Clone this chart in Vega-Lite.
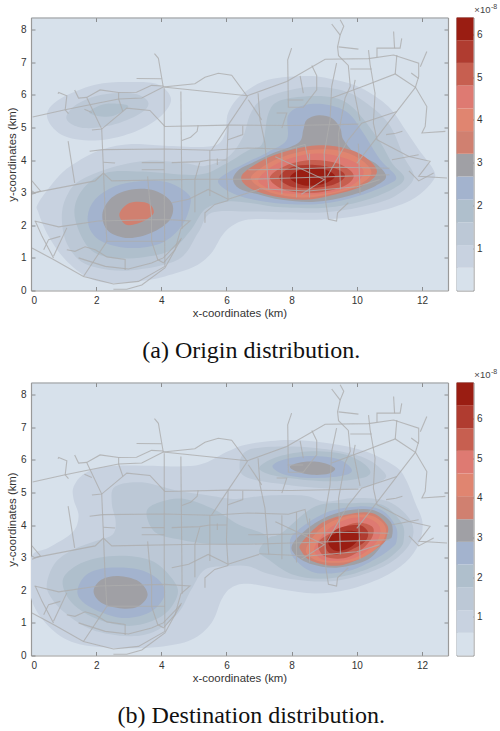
{"$schema":"https://vega.github.io/schema/vega-lite/v6.json","padding":{"left":6,"top":1.5,"right":0,"bottom":0},"background":"white","bounds":"flush","spacing":365,"config":{"axis":{"grid":false,"labelFont":"Liberation Sans","titleFont":"Liberation Sans","labelFontSize":10,"titleFontSize":11.4,"titleFontWeight":"normal","labelColor":"#333","titleColor":"#333","domainColor":"#999","tickColor":"#777","domainWidth":1.2,"tickWidth":0.8}},
"datasets":{
"bands1":[{"l":"c1","a":0.02,"b":0.55},{"l":"c2","a":0.55,"b":1.08},{"l":"c3","a":1.08,"b":1.61},{"l":"c4","a":1.61,"b":2.14},{"l":"c5","a":2.14,"b":2.68},{"l":"c6","a":2.68,"b":3.21},{"l":"c7","a":3.21,"b":3.74},{"l":"c8","a":3.74,"b":4.27},{"l":"c9","a":4.27,"b":4.8},{"l":"c10","a":4.8,"b":5.33},{"l":"c11","a":5.33,"b":5.86},{"l":"c12","a":5.86,"b":6.39}],
"bands2":[{"l":"c1","a":0.03,"b":0.6},{"l":"c2","a":0.6,"b":1.17},{"l":"c3","a":1.17,"b":1.75},{"l":"c4","a":1.75,"b":2.32},{"l":"c5","a":2.32,"b":2.89},{"l":"c6","a":2.89,"b":3.46},{"l":"c7","a":3.46,"b":4.04},{"l":"c8","a":4.04,"b":4.61},{"l":"c9","a":4.61,"b":5.18},{"l":"c10","a":5.18,"b":5.75},{"l":"c11","a":5.75,"b":6.33},{"l":"c12","a":6.33,"b":6.9}],
"o":[
{"l":"c2","s":"n","x":0.49,"y":5.34},{"l":"c2","s":"n","x":0.85,"y":5.85},{"l":"c2","s":"n","x":1.97,"y":6.31},{"l":"c2","s":"n","x":3.09,"y":6.39},{"l":"c2","s":"n","x":3.91,"y":6.31},{"l":"c2","s":"n","x":4.3,"y":5.85},{"l":"c2","s":"n","x":3.91,"y":5.28},{"l":"c2","s":"n","x":3.09,"y":4.83},{"l":"c2","s":"n","x":1.97,"y":4.6},{"l":"c2","s":"n","x":0.95,"y":4.77},
{"l":"c2","s":"m","x":0.23,"y":2.69},{"l":"c2","s":"m","x":0.85,"y":3.5},{"l":"c2","s":"m","x":1.36,"y":3.91},{"l":"c2","s":"m","x":2.17,"y":4.32},{"l":"c2","s":"m","x":3.09,"y":4.49},{"l":"c2","s":"m","x":4.11,"y":4.44},{"l":"c2","s":"m","x":5.54,"y":4.42},{"l":"c2","s":"m","x":5.95,"y":4.78},{"l":"c2","s":"m","x":6.05,"y":5.44},{"l":"c2","s":"m","x":6.46,"y":6},{"l":"c2","s":"m","x":7.28,"y":6.46},{"l":"c2","s":"m","x":8.51,"y":6.58},{"l":"c2","s":"m","x":9.33,"y":6.46},{"l":"c2","s":"m","x":10.15,"y":6.2},{"l":"c2","s":"m","x":10.97,"y":5.64},{"l":"c2","s":"m","x":11.49,"y":4.93},{"l":"c2","s":"m","x":11.9,"y":4.32},{"l":"c2","s":"m","x":12.38,"y":3.65},{"l":"c2","s":"m","x":12.3,"y":3.31},{"l":"c2","s":"m","x":11.8,"y":2.85},{"l":"c2","s":"m","x":11.08,"y":2.54},{"l":"c2","s":"m","x":9.95,"y":2.28},{"l":"c2","s":"m","x":8.92,"y":2.18},{"l":"c2","s":"m","x":7.7,"y":2.18},{"l":"c2","s":"m","x":6.67,"y":2.18},{"l":"c2","s":"m","x":6.15,"y":1.97},{"l":"c2","s":"m","x":5.85,"y":1.66},{"l":"c2","s":"m","x":5.54,"y":1.15},{"l":"c2","s":"m","x":5.03,"y":0.74},{"l":"c2","s":"m","x":4.11,"y":0.43},{"l":"c2","s":"m","x":3.3,"y":0.28},{"l":"c2","s":"m","x":2.48,"y":0.23},{"l":"c2","s":"m","x":1.77,"y":0.38},{"l":"c2","s":"m","x":1.05,"y":0.95},{"l":"c2","s":"m","x":0.54,"y":1.66},{"l":"c2","s":"m","x":0.23,"y":2.38},
{"l":"c3","s":"n","x":1.1,"y":5.38},{"l":"c3","s":"n","x":1.46,"y":5.74},{"l":"c3","s":"n","x":2.17,"y":6},{"l":"c3","s":"n","x":3.09,"y":6.05},{"l":"c3","s":"n","x":3.55,"y":5.85},{"l":"c3","s":"n","x":3.55,"y":5.59},{"l":"c3","s":"n","x":3.09,"y":5.29},{"l":"c3","s":"n","x":2.38,"y":5.05},{"l":"c3","s":"n","x":1.66,"y":4.98},{"l":"c3","s":"n","x":1.2,"y":5.13},
{"l":"c3","s":"m","x":0.95,"y":2.38},{"l":"c3","s":"m","x":1.15,"y":3},{"l":"c3","s":"m","x":1.56,"y":3.4},{"l":"c3","s":"m","x":2.58,"y":3.8},{"l":"c3","s":"m","x":3.6,"y":3.98},{"l":"c3","s":"m","x":4.72,"y":3.9},{"l":"c3","s":"m","x":5.34,"y":3.82},{"l":"c3","s":"m","x":6.05,"y":4.1},{"l":"c3","s":"m","x":6.5,"y":4.7},{"l":"c3","s":"m","x":6.75,"y":5.44},{"l":"c3","s":"m","x":7.18,"y":5.9},{"l":"c3","s":"m","x":8.41,"y":6.23},{"l":"c3","s":"m","x":9.44,"y":6.16},{"l":"c3","s":"m","x":10.15,"y":5.85},{"l":"c3","s":"m","x":10.97,"y":5.13},{"l":"c3","s":"m","x":11.44,"y":4.11},{"l":"c3","s":"m","x":11.75,"y":3.45},{"l":"c3","s":"m","x":11.18,"y":2.9},{"l":"c3","s":"m","x":10.26,"y":2.59},{"l":"c3","s":"m","x":9.03,"y":2.4},{"l":"c3","s":"m","x":7.7,"y":2.4},{"l":"c3","s":"m","x":6.67,"y":2.42},{"l":"c3","s":"m","x":5.54,"y":2.38},{"l":"c3","s":"m","x":5.13,"y":1.77},{"l":"c3","s":"m","x":4.52,"y":0.95},{"l":"c3","s":"m","x":3.09,"y":0.62},{"l":"c3","s":"m","x":2.07,"y":0.69},{"l":"c3","s":"m","x":1.46,"y":0.95},{"l":"c3","s":"m","x":1.05,"y":1.56},
{"l":"c4","s":"n","x":1.79,"y":5.49},{"l":"c4","s":"n","x":2.28,"y":5.72},{"l":"c4","s":"n","x":2.94,"y":5.69},{"l":"c4","s":"n","x":2.89,"y":5.54},{"l":"c4","s":"n","x":2.48,"y":5.34},{"l":"c4","s":"n","x":2.02,"y":5.36},
{"l":"c4","s":"m","x":1.34,"y":2.28},{"l":"c4","s":"m","x":1.55,"y":3.05},{"l":"c4","s":"m","x":2.28,"y":3.6},{"l":"c4","s":"m","x":3.4,"y":3.65},{"l":"c4","s":"m","x":5.13,"y":3.55},{"l":"c4","s":"m","x":5.95,"y":3.87},{"l":"c4","s":"m","x":6.67,"y":4.3},{"l":"c4","s":"m","x":7.1,"y":4.5},{"l":"c4","s":"m","x":7.28,"y":5.4},{"l":"c4","s":"m","x":7.59,"y":5.8},{"l":"c4","s":"m","x":8.41,"y":5.95},{"l":"c4","s":"m","x":9.33,"y":5.9},{"l":"c4","s":"m","x":9.95,"y":5.54},{"l":"c4","s":"m","x":10.67,"y":4.62},{"l":"c4","s":"m","x":11.08,"y":3.91},{"l":"c4","s":"m","x":11.46,"y":3.45},{"l":"c4","s":"m","x":11.08,"y":3.1},{"l":"c4","s":"m","x":10.15,"y":2.74},{"l":"c4","s":"m","x":9.03,"y":2.54},{"l":"c4","s":"m","x":7.7,"y":2.55},{"l":"c4","s":"m","x":6.67,"y":2.69},{"l":"c4","s":"m","x":6.0,"y":2.72},{"l":"c4","s":"m","x":5.34,"y":2.49},{"l":"c4","s":"m","x":4.92,"y":1.87},{"l":"c4","s":"m","x":4.32,"y":1.25},{"l":"c4","s":"m","x":3.5,"y":1.03},{"l":"c4","s":"m","x":2.48,"y":1.0},{"l":"c4","s":"m","x":1.77,"y":1.31},
{"l":"c5","s":"w","x":1.74,"y":2.28},{"l":"c5","s":"w","x":1.97,"y":2.8},{"l":"c5","s":"w","x":2.58,"y":3.2},{"l":"c5","s":"w","x":3.4,"y":3.36},{"l":"c5","s":"w","x":4.21,"y":3.31},{"l":"c5","s":"w","x":4.83,"y":2.95},{"l":"c5","s":"w","x":4.88,"y":2.59},{"l":"c5","s":"w","x":4.62,"y":1.97},{"l":"c5","s":"w","x":4.01,"y":1.46},{"l":"c5","s":"w","x":3.09,"y":1.3},{"l":"c5","s":"w","x":2.28,"y":1.46},{"l":"c5","s":"w","x":1.87,"y":1.77},
{"l":"c5","s":"e","x":5.74,"y":3.36},{"l":"c5","s":"e","x":6.1,"y":3.65},{"l":"c5","s":"e","x":6.67,"y":3.95},{"l":"c5","s":"e","x":7.28,"y":4.25},{"l":"c5","s":"e","x":7.85,"y":4.62},{"l":"c5","s":"e","x":7.9,"y":5.38},{"l":"c5","s":"e","x":8.41,"y":5.69},{"l":"c5","s":"e","x":9.13,"y":5.69},{"l":"c5","s":"e","x":9.74,"y":5.44},{"l":"c5","s":"e","x":10.2,"y":4.83},{"l":"c5","s":"e","x":10.72,"y":4.01},{"l":"c5","s":"e","x":11.2,"y":3.5},{"l":"c5","s":"e","x":10.97,"y":3.26},{"l":"c5","s":"e","x":10.05,"y":2.9},{"l":"c5","s":"e","x":8.92,"y":2.66},{"l":"c5","s":"e","x":7.7,"y":2.66},{"l":"c5","s":"e","x":6.67,"y":2.82},{"l":"c5","s":"e","x":6.05,"y":3.05},
{"l":"c6","s":"w","x":2.19,"y":2.33},{"l":"c6","s":"w","x":2.48,"y":2.85},{"l":"c6","s":"w","x":3.09,"y":3.1},{"l":"c6","s":"w","x":3.81,"y":3.06},{"l":"c6","s":"w","x":4.32,"y":2.69},{"l":"c6","s":"w","x":4.27,"y":2.18},{"l":"c6","s":"w","x":3.7,"y":1.77},{"l":"c6","s":"w","x":2.99,"y":1.61},{"l":"c6","s":"w","x":2.38,"y":1.82},
{"l":"c6","s":"e","x":6.2,"y":3.41},{"l":"c6","s":"e","x":6.4,"y":3.72},{"l":"c6","s":"e","x":6.8,"y":3.92},{"l":"c6","s":"e","x":7.4,"y":4.2},{"l":"c6","s":"e","x":8.2,"y":4.52},{"l":"c6","s":"e","x":8.36,"y":4.93},{"l":"c6","s":"e","x":8.46,"y":5.23},{"l":"c6","s":"e","x":8.82,"y":5.37},{"l":"c6","s":"e","x":9.23,"y":5.29},{"l":"c6","s":"e","x":9.49,"y":4.98},{"l":"c6","s":"e","x":9.59,"y":4.62},{"l":"c6","s":"e","x":9.95,"y":4.21},{"l":"c6","s":"e","x":10.56,"y":3.91},{"l":"c6","s":"e","x":10.9,"y":3.5},{"l":"c6","s":"e","x":10.56,"y":3.2},{"l":"c6","s":"e","x":9.74,"y":2.9},{"l":"c6","s":"e","x":8.72,"y":2.72},{"l":"c6","s":"e","x":7.7,"y":2.78},{"l":"c6","s":"e","x":6.97,"y":2.95},{"l":"c6","s":"e","x":6.4,"y":3.12},
{"l":"c7","s":"w","x":2.71,"y":2.33},{"l":"c7","s":"w","x":2.94,"y":2.64},{"l":"c7","s":"w","x":3.3,"y":2.72},{"l":"c7","s":"w","x":3.65,"y":2.64},{"l":"c7","s":"w","x":3.77,"y":2.38},{"l":"c7","s":"w","x":3.55,"y":2.18},{"l":"c7","s":"w","x":3.19,"y":2.03},{"l":"c7","s":"w","x":2.89,"y":2.03},
{"l":"c7","s":"e","x":6.45,"y":3.45},{"l":"c7","s":"e","x":6.75,"y":3.78},{"l":"c7","s":"e","x":7.49,"y":4.16},{"l":"c7","s":"e","x":8.51,"y":4.42},{"l":"c7","s":"e","x":9.33,"y":4.42},{"l":"c7","s":"e","x":10.15,"y":4.16},{"l":"c7","s":"e","x":10.62,"y":3.65},{"l":"c7","s":"e","x":10.15,"y":3.2},{"l":"c7","s":"e","x":9.23,"y":2.92},{"l":"c7","s":"e","x":8.41,"y":2.78},{"l":"c7","s":"e","x":7.49,"y":2.88},{"l":"c7","s":"e","x":6.75,"y":3.12},
{"l":"c8","s":"e","x":6.75,"y":3.45},{"l":"c8","s":"e","x":7.05,"y":3.75},{"l":"c8","s":"e","x":7.6,"y":4.05},{"l":"c8","s":"e","x":8.5,"y":4.3},{"l":"c8","s":"e","x":9.4,"y":4.3},{"l":"c8","s":"e","x":10.1,"y":4.03},{"l":"c8","s":"e","x":10.45,"y":3.6},{"l":"c8","s":"e","x":10,"y":3.2},{"l":"c8","s":"e","x":9.2,"y":2.96},{"l":"c8","s":"e","x":8.4,"y":2.85},{"l":"c8","s":"e","x":7.5,"y":2.96},{"l":"c8","s":"e","x":7.0,"y":3.18},
{"l":"c9","s":"e","x":7.0,"y":3.45},{"l":"c9","s":"e","x":7.6,"y":3.92},{"l":"c9","s":"e","x":8.5,"y":4.18},{"l":"c9","s":"e","x":9.3,"y":4.15},{"l":"c9","s":"e","x":10,"y":3.9},{"l":"c9","s":"e","x":10.2,"y":3.55},{"l":"c9","s":"e","x":9.7,"y":3.15},{"l":"c9","s":"e","x":8.8,"y":2.95},{"l":"c9","s":"e","x":7.7,"y":3.0},{"l":"c9","s":"e","x":7.15,"y":3.2},
{"l":"c10","s":"e","x":7.33,"y":3.45},{"l":"c10","s":"e","x":7.8,"y":3.82},{"l":"c10","s":"e","x":8.6,"y":4.0},{"l":"c10","s":"e","x":9.4,"y":3.9},{"l":"c10","s":"e","x":9.9,"y":3.55},{"l":"c10","s":"e","x":9.6,"y":3.2},{"l":"c10","s":"e","x":8.7,"y":3.0},{"l":"c10","s":"e","x":7.8,"y":3.08},
{"l":"c11","s":"e","x":7.62,"y":3.47},{"l":"c11","s":"e","x":8.0,"y":3.78},{"l":"c11","s":"e","x":8.7,"y":3.85},{"l":"c11","s":"e","x":9.4,"y":3.72},{"l":"c11","s":"e","x":9.64,"y":3.5},{"l":"c11","s":"e","x":9.3,"y":3.25},{"l":"c11","s":"e","x":8.6,"y":3.14},{"l":"c11","s":"e","x":7.95,"y":3.2},
{"l":"c12","s":"e","x":7.95,"y":3.45},{"l":"c12","s":"e","x":8.3,"y":3.72},{"l":"c12","s":"e","x":8.9,"y":3.74},{"l":"c12","s":"e","x":9.33,"y":3.52},{"l":"c12","s":"e","x":9.0,"y":3.28},{"l":"c12","s":"e","x":8.4,"y":3.22}
],
"d":[
{"l":"c2","s":"m","x":0,"y":3.0},{"l":"c2","s":"m","x":0.54,"y":3.3},{"l":"c2","s":"m","x":1.26,"y":3.76},{"l":"c2","s":"m","x":1.46,"y":4.27},{"l":"c2","s":"m","x":1.31,"y":4.78},{"l":"c2","s":"m","x":1.31,"y":5.18},{"l":"c2","s":"m","x":1.66,"y":5.59},{"l":"c2","s":"m","x":2.38,"y":5.8},{"l":"c2","s":"m","x":3.5,"y":5.82},{"l":"c2","s":"m","x":4.72,"y":5.8},{"l":"c2","s":"m","x":5.34,"y":5.9},{"l":"c2","s":"m","x":6.05,"y":6.26},{"l":"c2","s":"m","x":6.66,"y":6.48},{"l":"c2","s":"m","x":7.9,"y":6.61},{"l":"c2","s":"m","x":9.13,"y":6.51},{"l":"c2","s":"m","x":10.26,"y":6.26},{"l":"c2","s":"m","x":11.18,"y":5.8},{"l":"c2","s":"m","x":11.51,"y":5.39},{"l":"c2","s":"m","x":11.8,"y":4.67},{"l":"c2","s":"m","x":12.02,"y":4.06},{"l":"c2","s":"m","x":11.9,"y":3.41},{"l":"c2","s":"m","x":11.49,"y":2.85},{"l":"c2","s":"m","x":10.77,"y":2.38},{"l":"c2","s":"m","x":9.74,"y":2.02},{"l":"c2","s":"m","x":8.72,"y":1.9},{"l":"c2","s":"m","x":7.7,"y":2.02},{"l":"c2","s":"m","x":6.67,"y":2.2},{"l":"c2","s":"m","x":6.15,"y":2.08},{"l":"c2","s":"m","x":5.85,"y":1.72},{"l":"c2","s":"m","x":5.54,"y":1},{"l":"c2","s":"m","x":4.92,"y":0.48},{"l":"c2","s":"m","x":3.91,"y":0.26},{"l":"c2","s":"m","x":2.58,"y":0.23},{"l":"c2","s":"m","x":1.36,"y":0.38},{"l":"c2","s":"m","x":0.54,"y":0.9},{"l":"c2","s":"m","x":0,"y":1.77},
{"l":"c3","s":"n","x":6.4,"y":5.8},{"l":"c3","s":"n","x":6.67,"y":6.3},{"l":"c3","s":"n","x":7.9,"y":6.41},{"l":"c3","s":"n","x":9.23,"y":6.3},{"l":"c3","s":"n","x":10.26,"y":6.05},{"l":"c3","s":"n","x":10.82,"y":5.64},{"l":"c3","s":"n","x":10.82,"y":5.39},{"l":"c3","s":"n","x":10.05,"y":5.13},{"l":"c3","s":"n","x":9.0,"y":5.13},{"l":"c3","s":"n","x":7.9,"y":5.23},{"l":"c3","s":"n","x":6.67,"y":5.44},
{"l":"c3","s":"m","x":0.49,"y":2.23},{"l":"c3","s":"m","x":0.75,"y":2.85},{"l":"c3","s":"m","x":1.3,"y":3.25},{"l":"c3","s":"m","x":1.97,"y":3.5},{"l":"c3","s":"m","x":2.5,"y":3.7},{"l":"c3","s":"m","x":2.6,"y":4.1},{"l":"c3","s":"m","x":2.48,"y":4.67},{"l":"c3","s":"m","x":2.58,"y":5.18},{"l":"c3","s":"m","x":3.4,"y":5.31},{"l":"c3","s":"m","x":4.5,"y":5.05},{"l":"c3","s":"m","x":5.5,"y":4.9},{"l":"c3","s":"m","x":6.3,"y":4.8},{"l":"c3","s":"m","x":7.2,"y":4.9},{"l":"c3","s":"m","x":8.4,"y":4.9},{"l":"c3","s":"m","x":9.03,"y":4.72},{"l":"c3","s":"m","x":9.95,"y":4.83},{"l":"c3","s":"m","x":10.97,"y":4.72},{"l":"c3","s":"m","x":11.64,"y":4.16},{"l":"c3","s":"m","x":11.69,"y":3.55},{"l":"c3","s":"m","x":11.18,"y":2.95},{"l":"c3","s":"m","x":10.36,"y":2.54},{"l":"c3","s":"m","x":9.23,"y":2.28},{"l":"c3","s":"m","x":8.1,"y":2.33},{"l":"c3","s":"m","x":7.18,"y":2.54},{"l":"c3","s":"m","x":6.67,"y":2.74},{"l":"c3","s":"m","x":6.05,"y":2.74},{"l":"c3","s":"m","x":5.34,"y":2.64},{"l":"c3","s":"m","x":4.92,"y":2.02},{"l":"c3","s":"m","x":4.52,"y":1.3},{"l":"c3","s":"m","x":3.81,"y":0.74},{"l":"c3","s":"m","x":2.99,"y":0.59},{"l":"c3","s":"m","x":1.87,"y":0.79},{"l":"c3","s":"m","x":1.05,"y":1.3},{"l":"c3","s":"m","x":0.59,"y":1.82},
{"l":"c4","s":"q","x":3.55,"y":4.42},{"l":"c4","s":"q","x":4.01,"y":4.72},{"l":"c4","s":"q","x":4.72,"y":4.8},{"l":"c4","s":"q","x":5.64,"y":4.47},{"l":"c4","s":"q","x":6.4,"y":4.0},{"l":"c4","s":"q","x":7.1,"y":3.75},{"l":"c4","s":"q","x":7.3,"y":3.5},{"l":"c4","s":"q","x":6.66,"y":3.42},{"l":"c4","s":"q","x":5.5,"y":3.42},{"l":"c4","s":"q","x":4.6,"y":3.55},{"l":"c4","s":"q","x":3.81,"y":3.78},
{"l":"c4","s":"w","x":0.97,"y":2.28},{"l":"c4","s":"w","x":1.36,"y":2.74},{"l":"c4","s":"w","x":2.07,"y":3},{"l":"c4","s":"w","x":2.99,"y":3.05},{"l":"c4","s":"w","x":3.81,"y":2.85},{"l":"c4","s":"w","x":4.42,"y":2.23},{"l":"c4","s":"w","x":4.47,"y":1.77},{"l":"c4","s":"w","x":4.01,"y":1.2},{"l":"c4","s":"w","x":3.09,"y":0.91},{"l":"c4","s":"w","x":2.07,"y":1.1},{"l":"c4","s":"w","x":1.26,"y":1.61},
{"l":"c4","s":"n","x":7.03,"y":5.8},{"l":"c4","s":"n","x":7.6,"y":6.1},{"l":"c4","s":"n","x":8.6,"y":6.26},{"l":"c4","s":"n","x":9.64,"y":6.16},{"l":"c4","s":"n","x":10.31,"y":5.8},{"l":"c4","s":"n","x":10.31,"y":5.49},{"l":"c4","s":"n","x":9.23,"y":5.34},{"l":"c4","s":"n","x":7.9,"y":5.44},{"l":"c4","s":"n","x":7.18,"y":5.6},
{"l":"c4","s":"e","x":7.3,"y":3.6},{"l":"c4","s":"e","x":7.7,"y":3.76},{"l":"c4","s":"e","x":8.72,"y":4.57},{"l":"c4","s":"e","x":9.74,"y":4.67},{"l":"c4","s":"e","x":10.77,"y":4.62},{"l":"c4","s":"e","x":11.38,"y":4.06},{"l":"c4","s":"e","x":11.44,"y":3.55},{"l":"c4","s":"e","x":11.3,"y":3.26},{"l":"c4","s":"e","x":10.77,"y":2.85},{"l":"c4","s":"e","x":9.85,"y":2.49},{"l":"c4","s":"e","x":8.9,"y":2.35},{"l":"c4","s":"e","x":8,"y":2.49},{"l":"c4","s":"e","x":7.28,"y":2.95},{"l":"c4","s":"e","x":7.0,"y":3.2},
{"l":"c5","s":"w","x":1.43,"y":2.02},{"l":"c5","s":"w","x":1.72,"y":2.49},{"l":"c5","s":"w","x":2.38,"y":2.69},{"l":"c5","s":"w","x":3.3,"y":2.64},{"l":"c5","s":"w","x":3.91,"y":2.33},{"l":"c5","s":"w","x":4.11,"y":1.87},{"l":"c5","s":"w","x":3.7,"y":1.36},{"l":"c5","s":"w","x":2.89,"y":1.15},{"l":"c5","s":"w","x":2.07,"y":1.36},{"l":"c5","s":"w","x":1.56,"y":1.67},
{"l":"c5","s":"n","x":7.41,"y":5.8},{"l":"c5","s":"n","x":7.8,"y":6.02},{"l":"c5","s":"n","x":8.62,"y":6.12},{"l":"c5","s":"n","x":9.44,"y":6.02},{"l":"c5","s":"n","x":9.85,"y":5.69},{"l":"c5","s":"n","x":9.54,"y":5.51},{"l":"c5","s":"n","x":8.62,"y":5.44},{"l":"c5","s":"n","x":7.8,"y":5.54},
{"l":"c5","s":"e","x":7.95,"y":3.36},{"l":"c5","s":"e","x":8.1,"y":3.76},{"l":"c5","s":"e","x":9.03,"y":4.37},{"l":"c5","s":"e","x":10.05,"y":4.57},{"l":"c5","s":"e","x":10.77,"y":4.45},{"l":"c5","s":"e","x":11.2,"y":3.95},{"l":"c5","s":"e","x":11.22,"y":3.5},{"l":"c5","s":"e","x":11.08,"y":3.3},{"l":"c5","s":"e","x":10.56,"y":2.95},{"l":"c5","s":"e","x":9.74,"y":2.59},{"l":"c5","s":"e","x":8.72,"y":2.54},{"l":"c5","s":"e","x":8.1,"y":2.95},
{"l":"c6","s":"w","x":1.92,"y":1.97},{"l":"c6","s":"w","x":2.17,"y":2.33},{"l":"c6","s":"w","x":2.68,"y":2.44},{"l":"c6","s":"w","x":3.3,"y":2.28},{"l":"c6","s":"w","x":3.58,"y":1.87},{"l":"c6","s":"w","x":3.3,"y":1.51},{"l":"c6","s":"w","x":2.79,"y":1.44},{"l":"c6","s":"w","x":2.17,"y":1.61},
{"l":"c6","s":"n","x":7.95,"y":5.8},{"l":"c6","s":"n","x":8.36,"y":5.93},{"l":"c6","s":"n","x":8.92,"y":5.92},{"l":"c6","s":"n","x":9.33,"y":5.74},{"l":"c6","s":"n","x":9.13,"y":5.57},{"l":"c6","s":"n","x":8.62,"y":5.54},{"l":"c6","s":"n","x":8.15,"y":5.64},
{"l":"c6","s":"e","x":8.05,"y":3.45},{"l":"c6","s":"e","x":8.72,"y":4.06},{"l":"c6","s":"e","x":9.54,"y":4.41},{"l":"c6","s":"e","x":10.46,"y":4.47},{"l":"c6","s":"e","x":11.03,"y":4.11},{"l":"c6","s":"e","x":11.08,"y":3.65},{"l":"c6","s":"e","x":10.87,"y":3.5},{"l":"c6","s":"e","x":10.36,"y":2.95},{"l":"c6","s":"e","x":9.44,"y":2.7},{"l":"c6","s":"e","x":8.62,"y":2.8},{"l":"c6","s":"e","x":8.1,"y":3.1},
{"l":"c7","s":"e","x":8.3,"y":3.45},{"l":"c7","s":"e","x":8.92,"y":4.06},{"l":"c7","s":"e","x":9.64,"y":4.31},{"l":"c7","s":"e","x":10.46,"y":4.37},{"l":"c7","s":"e","x":10.93,"y":4.0},{"l":"c7","s":"e","x":10.92,"y":3.65},{"l":"c7","s":"e","x":10.77,"y":3.4},{"l":"c7","s":"e","x":10.15,"y":3},{"l":"c7","s":"e","x":9.38,"y":2.75},{"l":"c7","s":"e","x":8.62,"y":2.9},{"l":"c7","s":"e","x":8.3,"y":3.2},
{"l":"c8","s":"e","x":8.45,"y":3.3},{"l":"c8","s":"e","x":8.9,"y":3.9},{"l":"c8","s":"e","x":9.6,"y":4.25},{"l":"c8","s":"e","x":10.4,"y":4.3},{"l":"c8","s":"e","x":10.85,"y":4.0},{"l":"c8","s":"e","x":10.85,"y":3.6},{"l":"c8","s":"e","x":10.5,"y":3.2},{"l":"c8","s":"e","x":9.9,"y":2.9},{"l":"c8","s":"e","x":9.1,"y":2.85},{"l":"c8","s":"e","x":8.6,"y":3.0},
{"l":"c9","s":"e","x":8.7,"y":3.3},{"l":"c9","s":"e","x":9.1,"y":3.85},{"l":"c9","s":"e","x":9.7,"y":4.18},{"l":"c9","s":"e","x":10.3,"y":4.22},{"l":"c9","s":"e","x":10.7,"y":3.95},{"l":"c9","s":"e","x":10.65,"y":3.55},{"l":"c9","s":"e","x":10.3,"y":3.2},{"l":"c9","s":"e","x":9.8,"y":2.95},{"l":"c9","s":"e","x":9.2,"y":2.9},{"l":"c9","s":"e","x":8.85,"y":3.0},
{"l":"c10","s":"e","x":8.82,"y":3.45},{"l":"c10","s":"e","x":9.23,"y":3.76},{"l":"c10","s":"e","x":9.95,"y":4.06},{"l":"c10","s":"e","x":10.46,"y":3.96},{"l":"c10","s":"e","x":10.48,"y":3.65},{"l":"c10","s":"e","x":10.15,"y":3.25},{"l":"c10","s":"e","x":9.6,"y":2.98},{"l":"c10","s":"e","x":9.0,"y":3.05},
{"l":"c11","s":"e","x":9.08,"y":3.55},{"l":"c11","s":"e","x":9.44,"y":3.9},{"l":"c11","s":"e","x":10.05,"y":4.0},{"l":"c11","s":"e","x":10.34,"y":3.8},{"l":"c11","s":"e","x":10.26,"y":3.5},{"l":"c11","s":"e","x":9.85,"y":3.25},{"l":"c11","s":"e","x":9.4,"y":3.1},{"l":"c11","s":"e","x":9.1,"y":3.2},
{"l":"c12","s":"e","x":9.13,"y":3.6},{"l":"c12","s":"e","x":9.54,"y":3.8},{"l":"c12","s":"e","x":10,"y":3.8},{"l":"c12","s":"e","x":10.1,"y":3.65},{"l":"c12","s":"e","x":9.85,"y":3.35},{"l":"c12","s":"e","x":9.45,"y":3.2},{"l":"c12","s":"e","x":9.2,"y":3.3}
],
"roads":[
{"r":1,"x":0.05,"y":5.32},{"r":1,"x":1.05,"y":5.54},{"r":1,"x":2.07,"y":5.75},{"r":1,"x":2.69,"y":5.87},{"r":1,"x":3.4,"y":5.9},{"r":1,"x":4.06,"y":6.24},{"r":1,"x":5.03,"y":6.34},{"r":1,"x":5.34,"y":6.54},{"r":1,"x":5.75,"y":6.66},{"r":1,"x":6.16,"y":6.6},{"r":1,"x":6.64,"y":5.95},{"r":1,"x":6.05,"y":5.07},{"r":1,"x":5.54,"y":4.3},
{"r":2,"x":4.06,"y":6.24},{"r":2,"x":6.64,"y":5.97},{"r":2,"x":7.85,"y":6.41},{"r":2,"x":9.03,"y":7.09},{"r":2,"x":10.36,"y":7.11},{"r":2,"x":11.13,"y":7.22},{"r":2,"x":11.9,"y":6.97},{"r":2,"x":11.9,"y":6.56},{"r":2,"x":11.8,"y":6.23},{"r":2,"x":12.15,"y":5.64},{"r":2,"x":12.1,"y":5.03},{"r":2,"x":12,"y":4.83},{"r":2,"x":12.72,"y":4.88},
{"r":3,"x":3.79,"y":7.26},{"r":3,"x":3.91,"y":7.12},{"r":3,"x":4.06,"y":6.24},{"r":4,"x":3.24,"y":6.5},{"r":4,"x":4.01,"y":6.49},
{"r":5,"x":1.34,"y":6.15},{"r":5,"x":1.46,"y":5.9},{"r":5,"x":1.71,"y":5.92},{"r":5,"x":2.12,"y":6.15},{"r":5,"x":2.69,"y":6.07},{"r":5,"x":3.24,"y":6.08},{"r":5,"x":3.7,"y":6.29},{"r":5,"x":4.06,"y":6.27},
{"r":6,"x":2.69,"y":6.07},{"r":6,"x":2.69,"y":5.87},{"r":6,"x":2.82,"y":5.49},
{"r":7,"x":0.83,"y":6.03},{"r":7,"x":0.85,"y":6.07},{"r":7,"x":1.1,"y":5.97},{"r":7,"x":1.05,"y":5.54},{"r":7,"x":1.15,"y":5.42},
{"r":8,"x":1.71,"y":5.92},{"r":8,"x":2.17,"y":4.95},{"r":8,"x":2.22,"y":3.8},{"r":8,"x":2.27,"y":2.5},{"r":8,"x":2.33,"y":1.51},{"r":8,"x":1.61,"y":0.43},
{"r":9,"x":1.64,"y":5.56},{"r":9,"x":1.87,"y":5.46},{"r":10,"x":1.87,"y":4.92},{"r":10,"x":2.17,"y":4.95},{"r":10,"x":2.82,"y":5.49},{"r":10,"x":2.94,"y":5.59},{"r":10,"x":3.65,"y":5.52},{"r":10,"x":4.11,"y":5.03},{"r":10,"x":6.05,"y":5.07},{"r":10,"x":8,"y":5.06},{"r":10,"x":10.05,"y":5.1},
{"r":11,"x":4.09,"y":6.2},{"r":11,"x":4.09,"y":3},{"r":11,"x":4.11,"y":0.74},{"r":12,"x":4.6,"y":6.1},{"r":12,"x":4.64,"y":1.89},
{"r":13,"x":4.63,"y":4.6},{"r":13,"x":4.9,"y":4.7},{"r":13,"x":5.1,"y":4.88},{"r":13,"x":5.13,"y":5.06},
{"r":14,"x":5.49,"y":4.3},{"r":14,"x":5.49,"y":2.9},{"r":15,"x":6.05,"y":5.07},{"r":15,"x":6,"y":3.55},{"r":15,"x":6.05,"y":2.76},{"r":16,"x":6.05,"y":4.62},{"r":16,"x":6.5,"y":4.78},{"r":16,"x":6.5,"y":5.05},
{"r":17,"x":1.8,"y":4.27},{"r":17,"x":2.2,"y":4.32},{"r":17,"x":4.1,"y":4.34},{"r":17,"x":5.54,"y":4.3},{"r":17,"x":6.66,"y":4.37},{"r":17,"x":7.9,"y":4.33},{"r":17,"x":8.41,"y":4.48},{"r":17,"x":8.51,"y":4.0},
{"r":18,"x":2.22,"y":3.93},{"r":18,"x":2.58,"y":3.91},{"r":19,"x":3.4,"y":3.92},{"r":19,"x":4.09,"y":3.92},{"r":20,"x":3.4,"y":3.7},{"r":20,"x":4.09,"y":3.7},
{"r":21,"x":4.32,"y":3.92},{"r":21,"x":5.18,"y":3.95},{"r":21,"x":5.49,"y":4},{"r":21,"x":6,"y":4},{"r":22,"x":5.72,"y":4.05},{"r":22,"x":5.72,"y":3.85},
{"r":23,"x":1.14,"y":4.58},{"r":23,"x":1.34,"y":3.3},{"r":24,"x":5.18,"y":3.93},{"r":24,"x":5.03,"y":3.4},{"r":24,"x":5.03,"y":2.4},
{"r":25,"x":0.03,"y":3.05},{"r":25,"x":0.11,"y":3},{"r":25,"x":1.97,"y":3.36},{"r":25,"x":2.22,"y":3.6},{"r":25,"x":2.48,"y":3.36},{"r":25,"x":5.13,"y":3.41},{"r":25,"x":6.66,"y":3.41},{"r":25,"x":8,"y":3.45},{"r":25,"x":9.5,"y":3.5},{"r":25,"x":11,"y":3.55},
{"r":26,"x":0.03,"y":3.36},{"r":26,"x":0.29,"y":3.05},{"r":26,"x":0.03,"y":2.95},
{"r":27,"x":0.11,"y":2.13},{"r":27,"x":0.85,"y":1.95},{"r":27,"x":2.07,"y":2.13},{"r":27,"x":4.11,"y":2.18},{"r":27,"x":4.88,"y":2.13},{"r":27,"x":4.6,"y":1.89},{"r":27,"x":4.42,"y":1.25},{"r":27,"x":4.06,"y":0.84},
{"r":28,"x":0.03,"y":1.3},{"r":28,"x":0.69,"y":0.95},{"r":28,"x":1.61,"y":0.43},{"r":28,"x":2.53,"y":0.2},{"r":28,"x":3.3,"y":0.28},{"r":28,"x":4.11,"y":0.74},
{"r":29,"x":2.53,"y":0.04},{"r":29,"x":2.94,"y":0.04},{"r":29,"x":3.4,"y":0.17},{"r":29,"x":4.11,"y":0.69},{"r":29,"x":4.62,"y":1.61},
{"r":30,"x":0.13,"y":2.13},{"r":30,"x":0.34,"y":1.66},{"r":30,"x":0.69,"y":1},{"r":31,"x":1.1,"y":1.92},{"r":31,"x":0.69,"y":1.05},{"r":32,"x":0.39,"y":1.25},{"r":32,"x":0.54,"y":1.56},{"r":32,"x":0.9,"y":1.66},
{"r":33,"x":1.1,"y":1.25},{"r":33,"x":1.35,"y":1.2},{"r":33,"x":1.66,"y":1.34},{"r":33,"x":1.97,"y":1.25},{"r":33,"x":2.33,"y":1.03},{"r":33,"x":2.89,"y":0.95},{"r":33,"x":2.89,"y":0.63},
{"r":34,"x":1.46,"y":1},{"r":34,"x":2.28,"y":0.74},{"r":34,"x":2.99,"y":0.66},{"r":34,"x":3.7,"y":0.84},{"r":34,"x":4.06,"y":1},{"r":34,"x":4.6,"y":1.56},
{"r":35,"x":2.33,"y":1.51},{"r":35,"x":4.11,"y":1.51},{"r":36,"x":3.7,"y":1.51},{"r":36,"x":3.89,"y":0.95},{"r":36,"x":4.06,"y":0.85},
{"r":37,"x":4.32,"y":2.69},{"r":37,"x":4.84,"y":2.8},{"r":37,"x":5.44,"y":3.1},{"r":37,"x":6.05,"y":2.8},{"r":37,"x":7,"y":3.1},
{"r":38,"x":5.34,"y":2.08},{"r":38,"x":5.34,"y":2.38},{"r":38,"x":5.64,"y":2.64},{"r":38,"x":6.05,"y":2.76},
{"r":39,"x":3.58,"y":3.5},{"r":39,"x":3.63,"y":2.9},{"r":39,"x":3.7,"y":2.28},{"r":39,"x":3.7,"y":1.51},
{"r":40,"x":9.23,"y":5.9},{"r":40,"x":10.2,"y":6.26},{"r":40,"x":11.18,"y":6.64},{"r":40,"x":11.8,"y":6.23},{"r":40,"x":11.23,"y":5.49},{"r":40,"x":10.56,"y":4.62},{"r":40,"x":10,"y":3.9},
{"r":41,"x":11.23,"y":5.49},{"r":41,"x":10.15,"y":5.13},{"r":41,"x":9.74,"y":4.62},{"r":41,"x":9.44,"y":4.11},{"r":41,"x":9.1,"y":3.5},
{"r":42,"x":11.18,"y":6.64},{"r":42,"x":11.23,"y":7.22},{"r":43,"x":10.62,"y":7.15},{"r":43,"x":10.62,"y":7.43},{"r":43,"x":11.33,"y":7.43},{"r":43,"x":11.38,"y":7.73},{"r":44,"x":11.13,"y":7.94},{"r":44,"x":11.16,"y":7.43},
{"r":45,"x":11.95,"y":6.86},{"r":45,"x":12.15,"y":7.33},{"r":46,"x":11.67,"y":6.67},{"r":46,"x":11.9,"y":6.5},
{"r":47,"x":9.49,"y":8.3},{"r":47,"x":9.6,"y":8.1},{"r":47,"x":9.49,"y":7.83},{"r":47,"x":9.41,"y":7.47},{"r":47,"x":9.44,"y":7.2},{"r":47,"x":9.74,"y":6.9},{"r":47,"x":9.8,"y":6.26},{"r":47,"x":9.64,"y":5.9},{"r":47,"x":9.44,"y":4.81},{"r":47,"x":9.5,"y":3.1},
{"r":48,"x":9.23,"y":8.17},{"r":48,"x":9.49,"y":7.83},{"r":49,"x":9.44,"y":7.47},{"r":49,"x":10.05,"y":7.4},
{"r":50,"x":10.36,"y":7.37},{"r":50,"x":10.41,"y":6.92},{"r":50,"x":10.56,"y":6.05},{"r":50,"x":10.51,"y":5.13},{"r":50,"x":10.62,"y":4.62},{"r":51,"x":9.8,"y":6.79},{"r":51,"x":10.46,"y":6.79},
{"r":52,"x":8.62,"y":6.9},{"r":52,"x":8.77,"y":6.59},{"r":52,"x":8.77,"y":6.15},{"r":52,"x":8.36,"y":5.62},{"r":52,"x":7.9,"y":5.62},{"r":52,"x":7.88,"y":7.07},{"r":52,"x":8,"y":7.43},
{"r":53,"x":7.88,"y":5.84},{"r":53,"x":8.36,"y":5.84},{"r":54,"x":8.26,"y":6.58},{"r":54,"x":8.36,"y":6.05},
{"r":55,"x":9.38,"y":6.97},{"r":55,"x":9.23,"y":6.26},{"r":55,"x":9.18,"y":5.23},{"r":55,"x":9.0,"y":4.2},{"r":55,"x":9.05,"y":2.69},{"r":55,"x":9.13,"y":2.18},{"r":55,"x":9.38,"y":2.13},{"r":55,"x":9.41,"y":2.38},{"r":55,"x":9.74,"y":2.69},
{"r":56,"x":9.95,"y":6.46},{"r":56,"x":9.9,"y":6.2},{"r":56,"x":10.1,"y":5.2},{"r":57,"x":7.54,"y":5.44},{"r":57,"x":7.85,"y":5.44},{"r":57,"x":7.7,"y":4.98},
{"r":58,"x":6.97,"y":6.05},{"r":58,"x":7.03,"y":5.23},{"r":58,"x":7.18,"y":4.52},{"r":58,"x":7.3,"y":3.1},{"r":59,"x":6.67,"y":5.85},{"r":59,"x":7.08,"y":5.23},
{"r":60,"x":10.9,"y":4.78},{"r":60,"x":11.2,"y":4.82},{"r":60,"x":11.4,"y":4.88},{"r":61,"x":10.62,"y":4.62},{"r":61,"x":11.6,"y":4.11},{"r":61,"x":12.25,"y":3.96},{"r":61,"x":11.9,"y":3.5},{"r":61,"x":12.77,"y":3.45},
{"r":62,"x":11.08,"y":4.01},{"r":62,"x":11.9,"y":4.16},{"r":63,"x":11.6,"y":3.67},{"r":63,"x":11.9,"y":3.36},{"r":63,"x":12.36,"y":3.6},
{"r":64,"x":6.67,"y":3.7},{"r":64,"x":8,"y":3.72},{"r":64,"x":9.5,"y":3.78},{"r":64,"x":11,"y":3.75},{"r":65,"x":7,"y":3.12},{"r":65,"x":8.5,"y":3.05},{"r":65,"x":10,"y":3.18},{"r":65,"x":10.7,"y":3.4},
{"r":66,"x":7.7,"y":4.3},{"r":66,"x":7.7,"y":2.95},{"r":67,"x":8.15,"y":4.4},{"r":67,"x":8.15,"y":2.85},{"r":68,"x":8.55,"y":4.2},{"r":68,"x":8.55,"y":2.85},{"r":69,"x":10.05,"y":4.5},{"r":69,"x":10.1,"y":2.95},
{"r":70,"x":7.5,"y":4.1},{"r":70,"x":9,"y":3.4},{"r":70,"x":8.3,"y":2.95}
]},
"vconcat":[
{"hconcat":[
{"width":417,"height":273,"view":{"fill":"#d7e1eb","stroke":null},"resolve":{"axis":{"x":"independent","y":"independent"}},"layer":[
{"data":{"name":"o"},"transform":[{"window":[{"op":"row_number","as":"i"}]}],"mark":{"type":"line","filled":true,"interpolate":"cardinal-closed","clip":true,"strokeWidth":0},"encoding":{"x":{"field":"x","type":"quantitative","scale":{"domain":[0,12.8],"nice":false},"axis":{"values":[0,2,4,6,8,10,12],"format":"d","title":"x-coordinates (km)","tickSize":-4,"labelPadding":9,"titlePadding":2}},"y":{"field":"y","type":"quantitative","scale":{"domain":[0,8.37],"nice":false},"axis":{"values":[0,1,2,3,4,5,6,7,8],"format":"d","title":"y-coordinates (km)","tickSize":-4,"labelPadding":9,"titlePadding":3}},"color":{"field":"l","type":"nominal","legend":null,"scale":{"domain":["c1","c2","c3","c4","c5","c6","c7","c8","c9","c10","c11","c12"],"range":["#d7e1eb","#c8d2e0","#bcc8d6","#afbfcc","#a3b3ce","#a0a0a5","#d08070","#e08570","#de7a72","#c75f50","#b03c30","#9a1d12"]}},"detail":{"field":"s"},"order":{"field":"i","type":"quantitative"}}},
{"data":{"name":"roads"},"transform":[{"window":[{"op":"row_number","as":"i"}]}],"mark":{"type":"line","stroke":"#adadad","strokeWidth":1.1,"opacity":0.8,"clip":true},"encoding":{"x":{"field":"x","type":"quantitative","axis":{"orient":"top","values":[2,4,6,8,10,12],"labels":false,"title":null,"tickSize":-4}},"y":{"field":"y","type":"quantitative","axis":{"orient":"right","values":[1,2,3,4,5,6,7,8],"labels":false,"title":null,"tickSize":-4}},"detail":{"field":"r"},"order":{"field":"i","type":"quantitative"}}},
{"data":{"values":[{"x":6.76,"y":-2.07,"t":"(a) Origin distribution."}]},"mark":{"type":"text","font":"Liberation Serif","fontSize":24,"color":"#111","align":"center","baseline":"alphabetic"},"encoding":{"x":{"field":"x","type":"quantitative","axis":null},"y":{"field":"y","type":"quantitative","axis":null},"text":{"field":"t"}}}
]},
{"width":17,"height":273,"view":{"stroke":"#888"},"layer":[
{"data":{"name":"bands1"},"mark":{"type":"rect"},"encoding":{"y":{"field":"a","type":"quantitative","scale":{"domain":[0.02,6.39],"nice":false},"axis":{"orient":"right","values":[1,2,3,4,5,6],"format":"d","title":null,"tickSize":-3,"labelPadding":6,"domain":false}},"y2":{"field":"b"},"color":{"field":"l","type":"nominal","legend":null,"scale":{"domain":["c1","c2","c3","c4","c5","c6","c7","c8","c9","c10","c11","c12"],"range":["#d7e1eb","#c8d2e0","#bcc8d6","#afbfcc","#a3b3ce","#a0a0a5","#d08070","#e08570","#de7a72","#c75f50","#b03c30","#9a1d12"]}}}},
{"data":{"values":[{"x":1.05,"y":6.49,"t":"×10"}]},"mark":{"type":"text","font":"Liberation Sans","fontSize":9.5,"color":"#444","align":"left","baseline":"alphabetic"},"encoding":{"x":{"field":"x","type":"quantitative","scale":{"domain":[0,1],"nice":false},"axis":null},"y":{"field":"y","type":"quantitative"},"text":{"field":"t"}}},
{"data":{"values":[{"x":2.03,"y":6.59,"t":"-8"}]},"mark":{"type":"text","font":"Liberation Sans","fontSize":7,"color":"#444","align":"left","baseline":"alphabetic"},"encoding":{"x":{"field":"x","type":"quantitative"},"y":{"field":"y","type":"quantitative"},"text":{"field":"t"}}}
]}
],"spacing":8.5,"bounds":"flush"},
{"hconcat":[
{"width":417,"height":273,"view":{"fill":"#d7e1eb","stroke":null},"resolve":{"axis":{"x":"independent","y":"independent"}},"layer":[
{"data":{"name":"d"},"transform":[{"window":[{"op":"row_number","as":"i"}]}],"mark":{"type":"line","filled":true,"interpolate":"cardinal-closed","clip":true,"strokeWidth":0},"encoding":{"x":{"field":"x","type":"quantitative","scale":{"domain":[0,12.8],"nice":false},"axis":{"values":[0,2,4,6,8,10,12],"format":"d","title":"x-coordinates (km)","tickSize":-4,"labelPadding":9,"titlePadding":2}},"y":{"field":"y","type":"quantitative","scale":{"domain":[0,8.37],"nice":false},"axis":{"values":[0,1,2,3,4,5,6,7,8],"format":"d","title":"y-coordinates (km)","tickSize":-4,"labelPadding":9,"titlePadding":3}},"color":{"field":"l","type":"nominal","legend":null,"scale":{"domain":["c1","c2","c3","c4","c5","c6","c7","c8","c9","c10","c11","c12"],"range":["#d7e1eb","#c8d2e0","#bcc8d6","#afbfcc","#a3b3ce","#a0a0a5","#d08070","#e08570","#de7a72","#c75f50","#b03c30","#9a1d12"]}},"detail":{"field":"s"},"order":{"field":"i","type":"quantitative"}}},
{"data":{"name":"roads"},"transform":[{"window":[{"op":"row_number","as":"i"}]}],"mark":{"type":"line","stroke":"#adadad","strokeWidth":1.1,"opacity":0.8,"clip":true},"encoding":{"x":{"field":"x","type":"quantitative","axis":{"orient":"top","values":[2,4,6,8,10,12],"labels":false,"title":null,"tickSize":-4}},"y":{"field":"y","type":"quantitative","axis":{"orient":"right","values":[1,2,3,4,5,6,7,8],"labels":false,"title":null,"tickSize":-4}},"detail":{"field":"r"},"order":{"field":"i","type":"quantitative"}}},
{"data":{"values":[{"x":6.76,"y":-2.07,"t":"(b) Destination distribution."}]},"mark":{"type":"text","font":"Liberation Serif","fontSize":24,"color":"#111","align":"center","baseline":"alphabetic"},"encoding":{"x":{"field":"x","type":"quantitative","axis":null},"y":{"field":"y","type":"quantitative","axis":null},"text":{"field":"t"}}}
]},
{"width":17,"height":273,"view":{"stroke":"#888"},"layer":[
{"data":{"name":"bands2"},"mark":{"type":"rect"},"encoding":{"y":{"field":"a","type":"quantitative","scale":{"domain":[0.03,6.9],"nice":false},"axis":{"orient":"right","values":[1,2,3,4,5,6],"format":"d","title":null,"tickSize":-3,"labelPadding":6,"domain":false}},"y2":{"field":"b"},"color":{"field":"l","type":"nominal","legend":null,"scale":{"domain":["c1","c2","c3","c4","c5","c6","c7","c8","c9","c10","c11","c12"],"range":["#d7e1eb","#c8d2e0","#bcc8d6","#afbfcc","#a3b3ce","#a0a0a5","#d08070","#e08570","#de7a72","#c75f50","#b03c30","#9a1d12"]}}}},
{"data":{"values":[{"x":1.05,"y":7.01,"t":"×10"}]},"mark":{"type":"text","font":"Liberation Sans","fontSize":9.5,"color":"#444","align":"left","baseline":"alphabetic"},"encoding":{"x":{"field":"x","type":"quantitative","scale":{"domain":[0,1],"nice":false},"axis":null},"y":{"field":"y","type":"quantitative"},"text":{"field":"t"}}},
{"data":{"values":[{"x":2.03,"y":7.11,"t":"-8"}]},"mark":{"type":"text","font":"Liberation Sans","fontSize":7,"color":"#444","align":"left","baseline":"alphabetic"},"encoding":{"x":{"field":"x","type":"quantitative"},"y":{"field":"y","type":"quantitative"},"text":{"field":"t"}}}
]}
],"spacing":8.5,"bounds":"flush"}
]}
